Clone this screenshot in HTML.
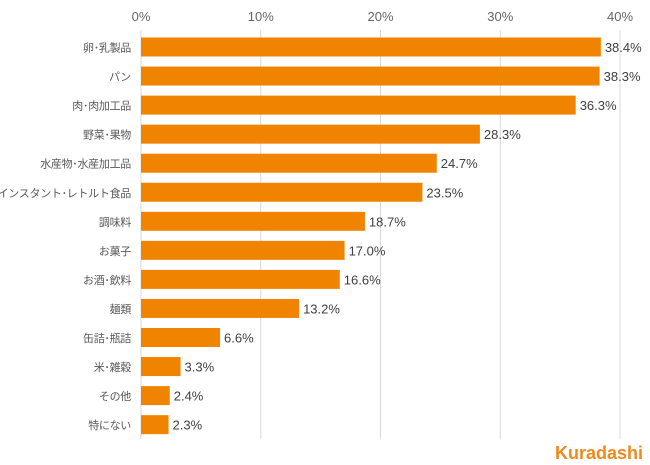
<!DOCTYPE html>
<html><head><meta charset="utf-8"><style>
body{margin:0;background:#fff;}
svg text{font-family:"Liberation Sans","Noto Sans CJK JP",sans-serif;}
</style></head><body>
<svg id="chart" width="650" height="460" xmlns="http://www.w3.org/2000/svg">
<g id="grid"></g><g id="bars"></g><g id="labels"></g>
<text x="643" y="459" text-anchor="end" font-size="18" font-weight="bold" fill="#ee8a1c">Kuradashi</text>
</svg>
<script>
const categories=["卵･乳製品","パン","肉･肉加工品","野菜･果物","水産物･水産加工品","インスタント･レトルト食品","調味料","お菓子","お酒･飲料","麺類","缶詰･瓶詰","米･雑穀","その他","特にない"];
const values=[38.4,38.3,36.3,28.3,24.7,23.5,18.7,17.0,16.6,13.2,6.6,3.3,2.4,2.3];
const ticks=[0,10,20,30,40];
const ns="http://www.w3.org/2000/svg";
const x=v=>141+v*(620-141)/40;
const y=i=>47+i*29.05;
function mk(t,a,p,txt){const e=document.createElementNS(ns,t);for(const k in a)e.setAttribute(k,a[k]);if(txt!=null)e.textContent=txt;p.appendChild(e);return e;}
const grid=document.getElementById('grid'),bars=document.getElementById('bars'),labels=document.getElementById('labels');
ticks.forEach(t=>{
 const l=mk('line',{x1:x(t),x2:x(t),y1:30,y2:439,stroke:'#d9d9d9','stroke-width':1},grid);
 
 
 const tx=mk('text',{x:x(t),y:21,'text-anchor':'middle','font-size':13,fill:'#666666'},grid,t+'%');
 
 
});
categories.forEach((c,i)=>{
 const r=mk('rect',{x:x(0),y:y(i)-9.5,width:x(values[i])-x(0),height:19,fill:'#f08300'},bars);
 
 
 const cl=mk('text',{x:131,y:y(i)+4.5,'text-anchor':'end','font-size':11,'letter-spacing':-0.3,fill:'#595959'},labels,c);
 
 
 const vl=mk('text',{x:x(values[i])+4,y:y(i)+5,'font-size':13,fill:'#404040'},labels,values[i].toFixed(1)+'%');
 
 
});
</script>
</body></html>
